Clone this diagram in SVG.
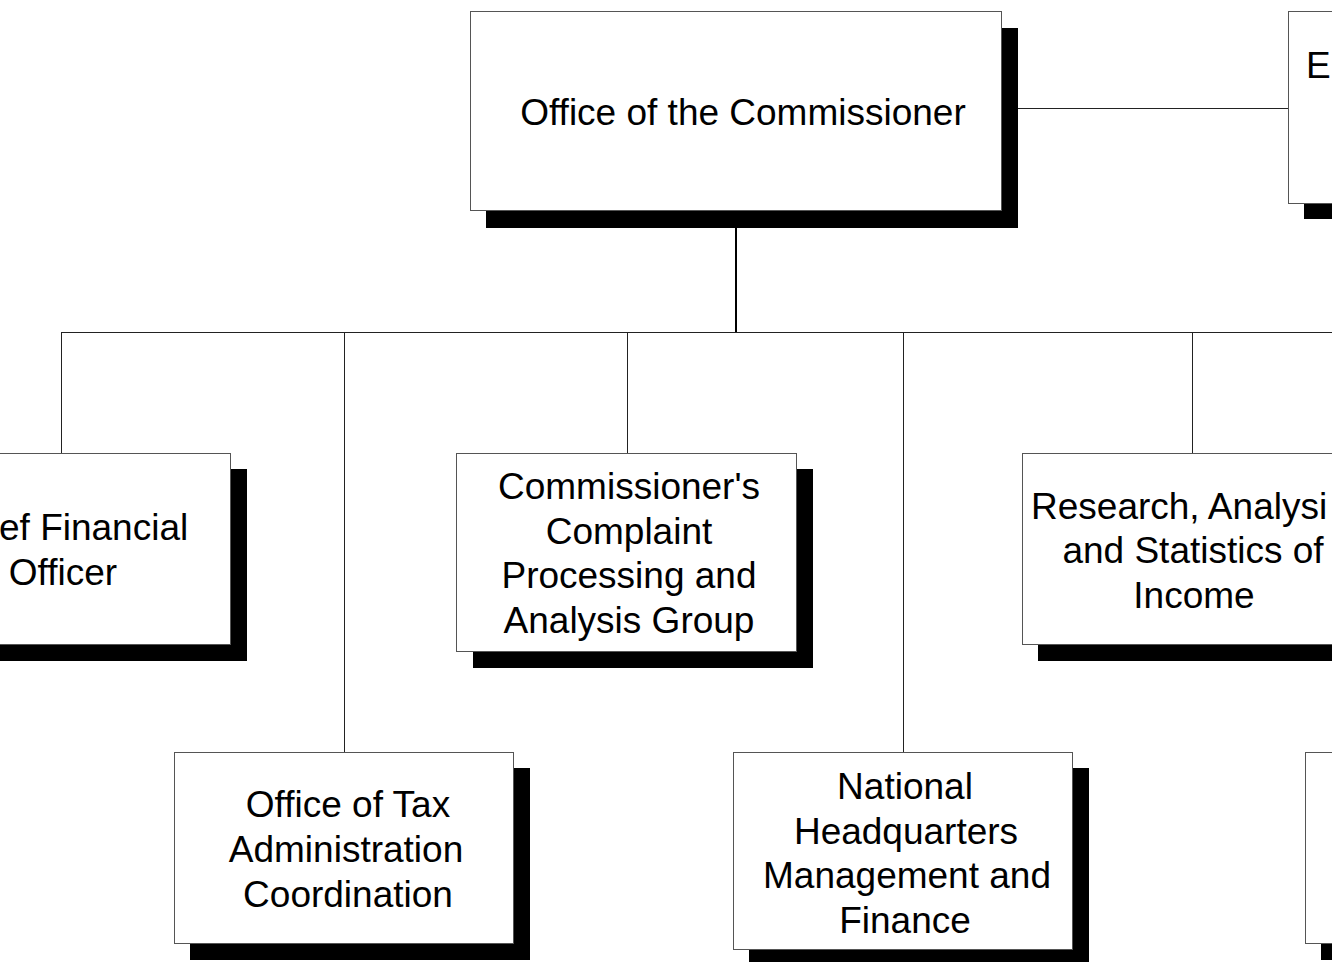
<svg xmlns="http://www.w3.org/2000/svg" width="1332" height="962" viewBox="0 0 1332 962">
<style>
.box{fill:#fff;stroke:#555;stroke-width:1}
.sh{fill:#000}
.t{font-family:"Liberation Sans",Arial,sans-serif;font-size:37px;fill:#000;text-anchor:middle}
.ts{font-family:"Liberation Sans",Arial,sans-serif;font-size:37px;fill:#000;text-anchor:start}
.c{stroke:#222;stroke-width:1;fill:none}
.cm{stroke:#000;stroke-width:2;fill:none}
</style>
<rect width="1332" height="962" fill="#fff"/>
<g id="connectors">
<line class="c" x1="1002" y1="108.5" x2="1288" y2="108.5"/>
<line class="cm" x1="736" y1="211" x2="736" y2="332"/>
<line class="c" x1="61.5" y1="332.5" x2="1332" y2="332.5"/>
<line class="c" x1="61.5" y1="332" x2="61.5" y2="453"/>
<line class="c" x1="344.5" y1="332" x2="344.5" y2="752"/>
<line class="c" x1="627.5" y1="332" x2="627.5" y2="453"/>
<line class="c" x1="903.5" y1="332" x2="903.5" y2="752"/>
<line class="c" x1="1192.5" y1="332" x2="1192.5" y2="453"/>
</g>
<g id="node-commissioner">
<rect class="sh" x="486" y="28" width="532" height="200"/>
<rect class="box" x="470.5" y="11.5" width="531" height="199"/>
<text class="t" x="743" y="125">Office of the Commissioner</text>
</g>
<g id="node-topright">
<rect class="sh" x="1304" y="28" width="40" height="191"/>
<rect class="box" x="1288.5" y="11.5" width="60" height="192"/>
<text class="ts" x="1306" y="78">E</text>
</g>
<g id="node-cfo">
<rect class="sh" x="-91" y="469" width="338" height="192"/>
<rect class="box" x="-107.5" y="453.5" width="338" height="191"/>
<text class="ts" x="-1" y="540">ef Financial</text>
<text class="t" x="63" y="584.5">Officer</text>
</g>
<g id="node-complaint">
<rect class="sh" x="473" y="469" width="340" height="199"/>
<rect class="box" x="456.5" y="453.5" width="340" height="198"/>
<text class="t" x="629" y="499">Commissioner's</text>
<text class="t" x="629" y="543.5">Complaint</text>
<text class="t" x="629" y="588">Processing and</text>
<text class="t" x="629" y="632.5">Analysis Group</text>
</g>
<g id="node-research">
<rect class="sh" x="1038" y="469" width="342" height="192"/>
<rect class="box" x="1022.5" y="453.5" width="342" height="191"/>
<text class="ts" x="1031" y="519">Research, Analysi</text>
<text class="t" x="1193" y="563">and Statistics of</text>
<text class="t" x="1194" y="607.5">Income</text>
</g>
<g id="node-tax">
<rect class="sh" x="190" y="768" width="340" height="192"/>
<rect class="box" x="174.5" y="752.5" width="339" height="191"/>
<text class="t" x="348" y="817">Office of Tax</text>
<text class="t" x="346" y="862">Administration</text>
<text class="t" x="348" y="906.5">Coordination</text>
</g>
<g id="node-nhq">
<rect class="sh" x="749" y="768" width="340" height="198"/>
<rect class="box" x="733.5" y="752.5" width="339" height="197"/>
<text class="t" x="905" y="799">National</text>
<text class="t" x="906" y="843.5">Headquarters</text>
<text class="t" x="907" y="888">Management and</text>
<text class="t" x="905" y="932.5">Finance</text>
</g>
<g id="node-bottomright">
<rect class="sh" x="1321" y="768" width="40" height="192"/>
<rect class="box" x="1305.5" y="752.5" width="60" height="191"/>
</g>
</svg>
